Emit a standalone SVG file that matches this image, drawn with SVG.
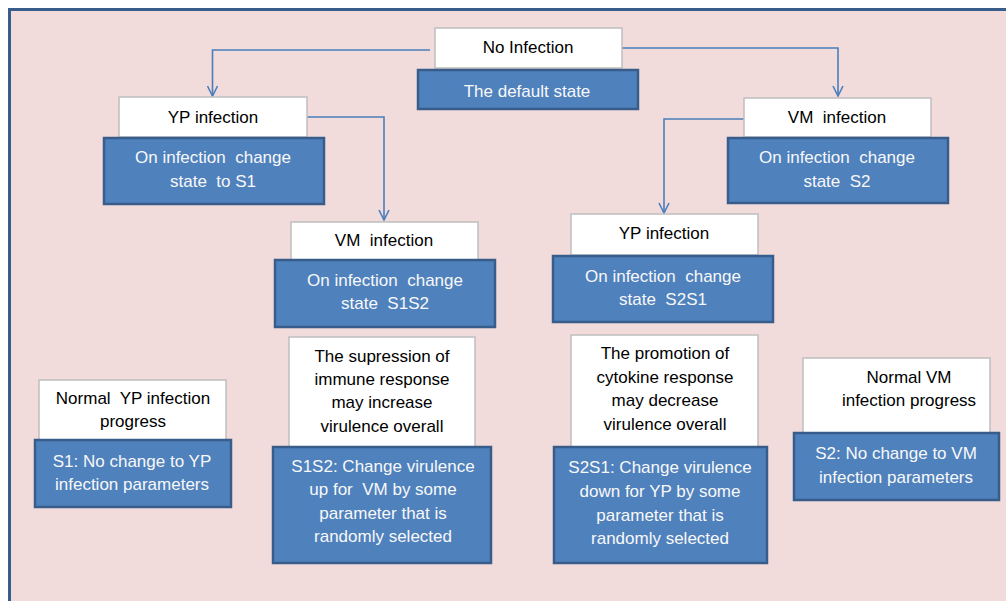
<svg xmlns="http://www.w3.org/2000/svg" width="1006" height="601" viewBox="0 0 1006 601">
<defs>
<style>
.w{fill:#FFFFFF;stroke:#BFBFBF;stroke-width:1.5}
.b{fill:#4F81BD;stroke:#385D8A;stroke-width:2.5}
.tw{font-family:"Liberation Sans",Arial,sans-serif;font-size:17px;fill:#000000;text-anchor:middle;white-space:pre}
.tb{font-family:"Liberation Sans",Arial,sans-serif;font-size:17px;fill:#F8F8F8;text-anchor:middle;white-space:pre}
.c{fill:none;stroke:#4A7EBB;stroke-width:1.6}
</style>
<marker id="ah" viewBox="0 0 12 12" refX="11" refY="6" markerWidth="12" markerHeight="12" markerUnits="userSpaceOnUse" orient="auto">
<path d="M1,1 L11,6 L1,11" fill="none" stroke="#4A7EBB" stroke-width="1.6"/>
</marker>
</defs>
<rect x="0" y="0" width="1006" height="601" fill="#FFFFFF"/>
<rect x="9.5" y="9.5" width="1000" height="600" fill="#F2DCDB" stroke="#385D8A" stroke-width="3"/>
<g id="connectors">
<path class="c" d="M430,50 H212.5 V96" marker-end="url(#ah)"/>
<path class="c" d="M622,48 H838 V96" marker-end="url(#ah)"/>
<path class="c" d="M307,117 H384 V220" marker-end="url(#ah)"/>
<path class="c" d="M744,119 H664 V213" marker-end="url(#ah)"/>
</g>
<g id="no-infection">
<rect class="w" x="435" y="28" width="187" height="40"/>
<text class="tw" x="528" y="53">No Infection</text>
<rect class="b" x="418" y="70" width="220" height="39"/>
<text class="tb" x="527" y="97">The default state</text>
</g>
<g id="yp-infection-1">
<rect class="w" x="119" y="97" width="188" height="40"/>
<text class="tw" x="213" y="123">YP infection</text>
<rect class="b" x="104" y="138" width="220" height="66"/>
<text class="tb" x="213" y="163" xml:space="preserve">On infection  change</text>
<text class="tb" x="213" y="187" xml:space="preserve">state  to S1</text>
</g>
<g id="vm-infection-1">
<rect class="w" x="744" y="98" width="187" height="39"/>
<text class="tw" x="837" y="123" xml:space="preserve">VM  infection</text>
<rect class="b" x="728" y="138" width="220" height="65"/>
<text class="tb" x="837" y="163" xml:space="preserve">On infection  change</text>
<text class="tb" x="837" y="187" xml:space="preserve">state  S2</text>
</g>
<g id="vm-infection-2">
<rect class="w" x="291" y="222" width="187" height="38"/>
<text class="tw" x="384" y="246" xml:space="preserve">VM  infection</text>
<rect class="b" x="275" y="260" width="220" height="67"/>
<text class="tb" x="385" y="286" xml:space="preserve">On infection  change</text>
<text class="tb" x="385" y="309" xml:space="preserve">state  S1S2</text>
</g>
<g id="yp-infection-2">
<rect class="w" x="571" y="214" width="187" height="41"/>
<text class="tw" x="664" y="239">YP infection</text>
<rect class="b" x="553" y="256" width="220" height="66"/>
<text class="tb" x="663" y="282" xml:space="preserve">On infection  change</text>
<text class="tb" x="663" y="305" xml:space="preserve">state  S2S1</text>
</g>
<g id="normal-yp">
<rect class="w" x="39" y="380" width="187" height="61"/>
<text class="tw" x="133" y="404" xml:space="preserve">Normal  YP infection</text>
<text class="tw" x="133" y="427">progress</text>
<rect class="b" x="35" y="440" width="196" height="67"/>
<text class="tb" x="132" y="467">S1: No change to YP</text>
<text class="tb" x="132" y="490">infection parameters</text>
</g>
<g id="suppression">
<rect class="w" x="289" y="337" width="186" height="110"/>
<text class="tw" x="382" y="362">The supression of</text>
<text class="tw" x="382" y="385">immune response</text>
<text class="tw" x="382" y="408">may increase</text>
<text class="tw" x="382" y="432">virulence overall</text>
<rect class="b" x="273" y="447" width="218" height="116"/>
<text class="tb" x="383" y="472">S1S2: Change virulence</text>
<text class="tb" x="383" y="495" xml:space="preserve">up for  VM by some</text>
<text class="tb" x="383" y="519">parameter that is</text>
<text class="tb" x="383" y="542">randomly selected</text>
</g>
<g id="promotion">
<rect class="w" x="571" y="335" width="187" height="112"/>
<text class="tw" x="665" y="359">The promotion of</text>
<text class="tw" x="665" y="383">cytokine response</text>
<text class="tw" x="665" y="406">may decrease</text>
<text class="tw" x="665" y="430">virulence overall</text>
<rect class="b" x="554" y="447" width="213" height="116"/>
<text class="tb" x="660" y="473">S2S1: Change virulence</text>
<text class="tb" x="660" y="497">down for YP by some</text>
<text class="tb" x="660" y="521">parameter that is</text>
<text class="tb" x="660" y="544">randomly selected</text>
</g>
<g id="normal-vm">
<rect class="w" x="803" y="358" width="187" height="76"/>
<text class="tw" x="909" y="383">Normal VM</text>
<text class="tw" x="909" y="406">infection progress</text>
<rect class="b" x="794" y="433" width="205" height="67"/>
<text class="tb" x="896" y="459">S2: No change to VM</text>
<text class="tb" x="896" y="483">infection parameters</text>
</g>
</svg>
